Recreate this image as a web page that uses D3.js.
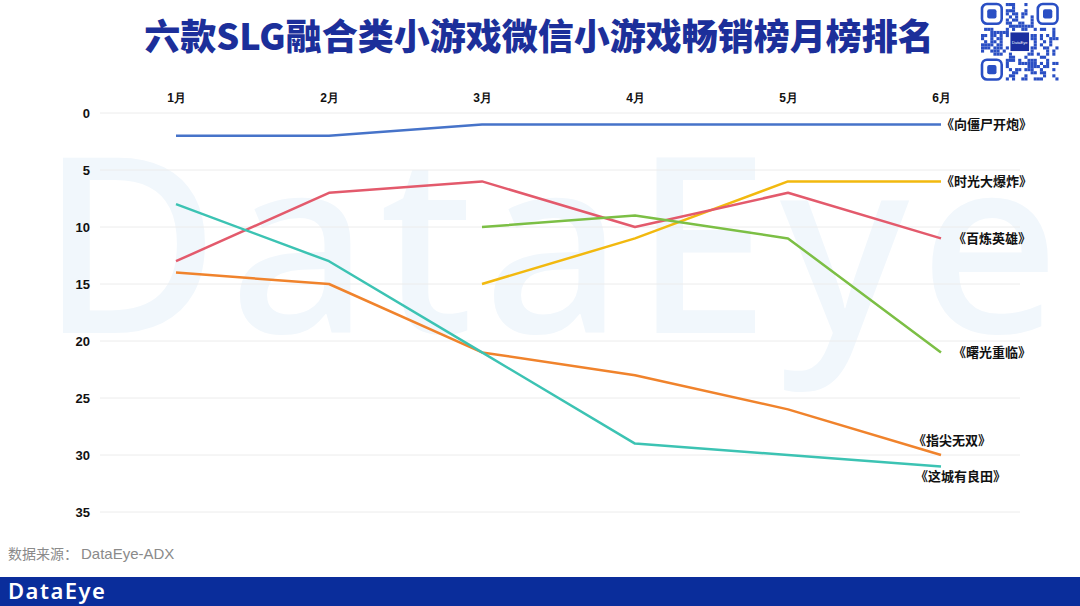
<!DOCTYPE html>
<html><head><meta charset="utf-8">
<script src="https://cdn.jsdelivr.net/npm/d3@7"></script>
<style>html,body{margin:0;padding:0;background:#fff;}svg{display:block;}</style>
</head><body>
<svg id="c" width="1080" height="606"></svg>
<script>
const months = ["1月","2月","3月","4月","5月","6月"];
const yTicks = [0,5,10,15,20,25,30,35];
const names = ["向僵尸开炮","时光大爆炸","百炼英雄","曙光重临","指尖无双","这城有良田"];
const colors = ["#4673c9","#f2b90f","#e35a6c","#7cbf45","#f0832c","#3cc3b3"];
const rankZombie = [2,2,1,1,1,1];
const rankTime = [null,null,15,11,6,6];
const rankHero = [13,7,6,10,7,11];
const rankDawn = [null,null,10,9,11,21];
const rankFinger = [14,15,21,23,26,30];
const rankCity = [8,13,21,29,30,31];
const seriesVals = [rankZombie,rankTime,rankHero,rankDawn,rankFinger,rankCity];
// label offsets (dx, dy) relative to last point
const labelOff = [[0,0],[0,0],[12,0],[12,0],[-28,-15],[-26,10]];

const svg = d3.select("#c");
const font = "'Liberation Sans', Arial, sans-serif";
const cjk = "'Noto Sans CJK SC', sans-serif";

// watermark
svg.append("text").attr("x",555).attr("y",333).attr("text-anchor","middle")
  .attr("font-family","'Noto Sans', sans-serif").attr("font-weight",500)
  .attr("font-size",245).attr("fill","#f1f7fc").attr("letter-spacing",10).text("DataEye");

// title
svg.append("text").attr("x",539).attr("y",50).attr("text-anchor","middle")
  .attr("font-family",cjk).attr("font-weight",900).attr("font-size",36)
  .attr("fill","#1c2f9a").text("六款SLG融合类小游戏微信小游戏畅销榜月榜排名");

// QR-ish decoration
const qr = svg.append("g").attr("transform","translate(981,3)");
const n=25, cs=3.1;
function h(i,j){let v=(i*73856093)^(j*19349663)^((i+j)*83492791);v=(v>>>0)%97;return v<45;}
for(let i=0;i<n;i++)for(let j=0;j<n;j++){
  const inF=(i<8&&j<8)||(i<8&&j>=n-8)||(i>=n-8&&j<8);
  const inC=(i>=9&&i<=15&&j>=9&&j<=15);
  if(!inF&&!inC&&h(i,j)) qr.append("rect").attr("x",j*cs).attr("y",i*cs).attr("width",cs).attr("height",cs).attr("fill","#2a4fc4");
}
[[0,0],[0,n-7],[n-7,0]].forEach(([r,c])=>{
  qr.append("rect").attr("x",c*cs+1).attr("y",r*cs+1).attr("width",7*cs-2).attr("height",7*cs-2).attr("rx",5).attr("fill","none").attr("stroke","#2a4fc4").attr("stroke-width",2.6);
  qr.append("rect").attr("x",c*cs+2*cs).attr("y",r*cs+2*cs).attr("width",3*cs).attr("height",3*cs).attr("rx",2).attr("fill","#2a4fc4");
});
qr.append("rect").attr("x",9.5*cs).attr("y",9.5*cs).attr("width",6*cs).attr("height",6*cs).attr("fill","#1b2fa0");
qr.append("text").attr("x",12.5*cs).attr("y",12.5*cs+2).attr("text-anchor","middle").attr("font-size",4).attr("fill","#fff").attr("font-family",font).text("DataEye");

// scales
const x = d3.scalePoint().domain(months).range([176,941]);
const y = d3.scaleLinear().domain([0,35]).range([113,512]);

// grid
svg.append("g").selectAll("line").data(yTicks).join("line")
  .attr("x1",100).attr("x2",1020).attr("y1",d=>y(d)).attr("y2",d=>y(d))
  .attr("stroke","#ececec").attr("stroke-width",1);

// y axis labels
const yAxis = d3.axisLeft(y).tickValues(yTicks).tickSize(0).tickPadding(0);
const yg = svg.append("g").attr("transform","translate(90,0)").call(yAxis);
yg.select(".domain").remove();
yg.selectAll("text").attr("font-family",font).attr("font-weight","bold").attr("font-size",13).attr("fill","#111").attr("dy","0.35em");

// x axis labels top
const xAxis = d3.axisTop(x).tickSize(0).tickPadding(0);
const xg = svg.append("g").attr("transform","translate(0,102)").call(xAxis);
xg.select(".domain").remove();
xg.selectAll("text").attr("font-family",font).attr("font-weight","bold").attr("font-size",12).attr("fill","#111");

// lines
const line = d3.line().defined(d=>d.v!=null).x(d=>x(d.m)).y(d=>y(d.v));
seriesVals.forEach((vals,i)=>{
  const data = vals.map((v,k)=>({m:months[k],v}));
  svg.append("path").datum(data).attr("d",line).attr("fill","none")
    .attr("stroke",colors[i]).attr("stroke-width",2.5).attr("stroke-linejoin","round");
  const last = data[data.length-1];
  svg.append("text").attr("x",x(last.m)+labelOff[i][0]).attr("y",y(last.v)+labelOff[i][1])
    .attr("dy","0.35em").attr("font-family",cjk).attr("font-weight",700).attr("font-size",13)
    .attr("fill","#111").text("《"+names[i]+"》");
});

// source
svg.append("text").attr("x",8).attr("y",559).attr("font-family",cjk).attr("font-size",14)
  .attr("fill","#8a8a8a").text("数据来源：");
svg.append("text").attr("x",81).attr("y",559).attr("font-family",font).attr("font-size",15)
  .attr("fill","#8a8a8a").text("DataEye-ADX");

// footer bar
svg.append("rect").attr("x",0).attr("y",577).attr("width",1080).attr("height",29).attr("fill","#0a2d9b");
svg.append("text").attr("x",8).attr("y",599).attr("font-family","'Noto Sans', sans-serif").attr("font-weight",600)
  .attr("font-size",22).attr("fill","#fff").attr("letter-spacing",1.5).text("DataEye");
</script>
</body></html>
